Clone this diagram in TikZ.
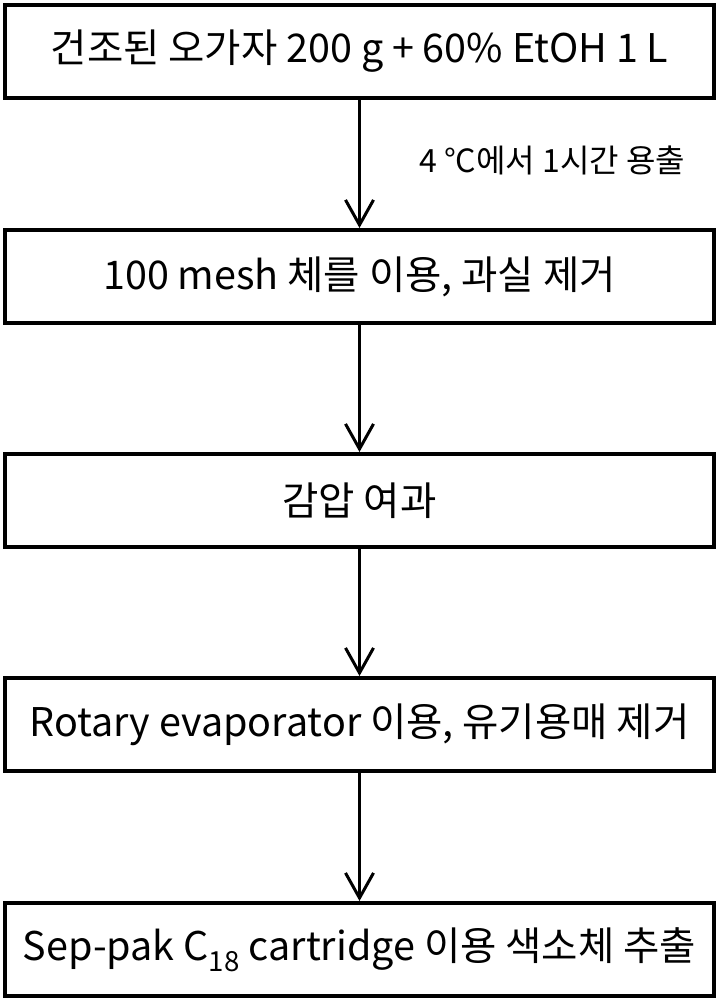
\documentclass[tikz,border=0pt]{standalone}
\usepackage{fontspec}
\setmainfont{Noto Sans CJK KR}
\usetikzlibrary{arrows.meta}
\begin{document}
\begin{tikzpicture}[x=1pt,y=-1pt,
  stepbox/.style={draw=black,line width=4pt,minimum width=709pt,minimum height=93pt,inner sep=0pt,font=\fontsize{39.5}{46}\selectfont,anchor=north},
  flow/.style={line width=3pt,-{Straight Barb[length=25pt,width=28pt,line width=3pt]}}]
\useasboundingbox (0,0) rectangle (719,998);
\node[stepbox] (b1) at (359.5,3) {건조된 오가자 200 g + 60\% EtOH 1 L};
\node[stepbox] (b2) at (359.5,228) {100 mesh 체를 이용, 과실 제거};
\node[stepbox] (b3) at (359.5,452) {감압 여과};
\node[stepbox] (b4) at (359.5,676) {Rotary evaporator 이용, 유기용매 제거};
\node[stepbox] (b5) at (359.5,901) {Sep-pak C\textsubscript{18} cartridge 이용 색소체 추출};
\draw[flow] (b1.south) -- (b2.north);
\node[anchor=west,inner sep=0pt,font=\fontsize{32}{38}\selectfont] (lab) at (419,160) {4 °C에서 1시간 용출};
\draw[flow] (b2.south) -- (b3.north);
\draw[flow] (b3.south) -- (b4.north);
\draw[flow] (b4.south) -- (b5.north);
\end{tikzpicture}
\end{document}
